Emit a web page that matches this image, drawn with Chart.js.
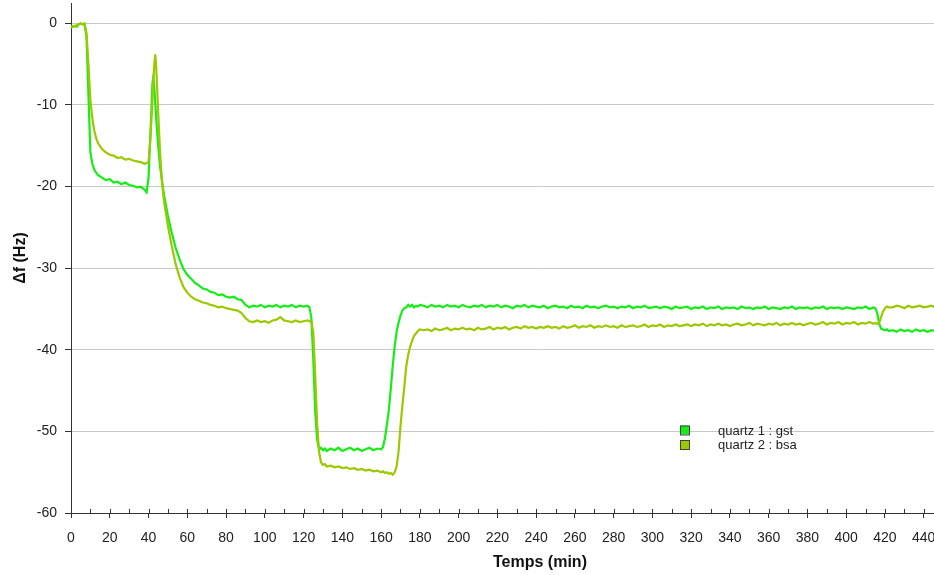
<!DOCTYPE html>
<html><head><meta charset="UTF-8"><title>quartz gst / bsa</title>
<script src="https://cdn.jsdelivr.net/npm/chart.js@4"></script>
<style>
html, body { margin: 0; padding: 0; background: #fff; overflow: hidden; }
#wrap { position: relative; width: 1009px; height: 575px; }
</style></head><body>
<div id="wrap"><canvas id="c"></canvas></div>
<script>
// temps (min) -- denser where the signal moves fast
const temps = [
  0,1,2,3,4,5,6,7,8,9,10,11,12,13,14,
  16,18,20,22,24,26,28,30,32,34,36,38,
  39,40,41,42,42.5,43,43.5,44,45,46,47,48,50,52,54,56,58,60,
  62,64,66,68,70,72,74,76,78,80,82,84,86,88,90,92,94,96,98,100,102,104,106,108,110,112,114,116,118,120,122,
  123,124,125,126,127,128,129,130,131,
  132,134,136,138,140,142,144,146,148,150,152,154,156,158,160,
  161,162,163,164,165,166,167,168,169,170,171,172,173,174,175,176,177,178,179,180,
  182,184,186,188,190,192,194,196,198,200,202,204,206,208,210,212,214,216,218,220,
  222,224,226,228,230,232,234,236,238,240,242,244,246,248,250,252,254,256,258,260,
  262,264,266,268,270,272,274,276,278,280,282,284,286,288,290,292,294,296,298,300,
  302,304,306,308,310,312,314,316,318,320,322,324,326,328,330,332,334,336,338,340,
  342,344,346,348,350,352,354,356,358,360,362,364,366,368,370,372,374,376,378,380,
  382,384,386,388,390,392,394,396,398,400,402,404,406,408,410,412,414,
  415,416,417,418,419,420,421,422,
  424,426,428,430,432,434,436,438,440,442,444,446
];

// quartz 1 : gst (Hz)
const gst = [
  -0.5,-0.4,-0.3,-0.4,-0.1,0.0,-0.1,-0.2,-1.6,-8.8,-15.8,-17.2,-17.9,-18.3,-18.6,
  -18.9,-19.2,-19.1,-19.5,-19.4,-19.7,-19.5,-19.8,-19.9,-20.1,-20.0,-20.4,
  -20.7,-18.9,-13.5,-7.4,-6.6,-8.0,-9.8,-11.8,-15.0,-17.6,-19.4,-21.0,-23.6,-25.7,-27.5,-28.9,-30.1,-30.8,
  -31.3,-31.8,-32.1,-32.5,-32.6,-32.9,-33.0,-33.3,-33.2,-33.5,-33.6,-33.5,-33.8,-33.9,-34.5,-34.8,-34.6,-34.7,-34.5,-34.8,-34.6,-34.7,-34.5,-34.8,-34.6,-34.7,-34.5,-34.8,-34.6,-34.7,-34.6,
  -34.8,-36.0,-41.0,-47.5,-51.0,-52.2,-52.0,-52.3,-52.1,
  -52.4,-52.1,-52.3,-52.0,-52.4,-52.2,-52.0,-52.3,-52.1,-52.4,-52.2,-52.0,-52.3,-52.1,-52.2,
  -51.9,-50.8,-49.2,-47.4,-44.8,-42.0,-39.6,-37.8,-36.7,-35.8,-35.2,-34.9,-34.8,-34.5,-34.7,-34.5,-34.8,-34.6,-34.7,-34.5,
  -34.6,-34.8,-34.5,-34.7,-34.6,-34.8,-34.5,-34.7,-34.6,-34.8,-34.5,-34.7,-34.8,-34.6,-34.7,-34.5,-34.8,-34.6,-34.7,-34.5,
  -34.8,-34.6,-34.7,-34.9,-34.6,-34.7,-34.5,-34.8,-34.6,-34.7,-34.8,-34.6,-34.9,-34.7,-34.6,-34.8,-34.7,-34.9,-34.6,-34.8,
  -34.7,-34.9,-34.6,-34.8,-34.7,-34.9,-34.7,-34.6,-34.8,-34.7,-34.9,-34.7,-34.8,-34.6,-34.9,-34.7,-34.8,-34.6,-34.9,-34.8,
  -34.7,-34.9,-34.7,-34.8,-35.0,-34.7,-34.9,-34.8,-34.7,-35.0,-34.8,-34.9,-34.7,-35.0,-34.8,-34.9,-34.7,-35.0,-34.8,-34.9,
  -34.8,-35.0,-34.7,-34.9,-34.8,-35.0,-34.8,-34.9,-34.7,-35.0,-34.8,-34.9,-35.0,-34.8,-34.9,-34.7,-35.0,-34.8,-34.9,-34.8,
  -35.0,-34.8,-34.9,-34.7,-35.0,-34.8,-34.9,-34.8,-35.0,-34.8,-34.9,-35.0,-34.8,-34.9,-34.7,-35.0,-34.8,
  -34.9,-35.5,-36.8,-37.4,-37.5,-37.6,-37.5,-37.7,
  -37.6,-37.8,-37.5,-37.7,-37.6,-37.8,-37.5,-37.7,-37.6,-37.8,-37.6,-37.7
];

// quartz 2 : bsa (Hz)
const bsa = [
  -0.4,-0.3,-0.4,-0.2,-0.1,0.0,-0.1,0.0,-1.2,-5.0,-9.4,-11.6,-13.1,-14.1,-14.7,
  -15.4,-15.8,-16.1,-16.2,-16.5,-16.4,-16.7,-16.6,-16.8,-16.9,-17.0,-17.2,
  -17.1,-17.0,-14.0,-9.5,-7.0,-5.0,-3.8,-5.5,-11.0,-16.0,-19.6,-21.8,-24.8,-27.3,-29.5,-31.1,-32.3,-33.0,
  -33.5,-33.8,-34.0,-34.2,-34.3,-34.5,-34.6,-34.8,-34.7,-34.9,-35.0,-35.1,-35.2,-35.5,-36.1,-36.5,-36.6,-36.4,-36.6,-36.5,-36.7,-36.4,-36.3,-36.0,-36.4,-36.5,-36.6,-36.4,-36.6,-36.5,-36.4,
  -36.5,-36.6,-37.8,-43.0,-49.0,-52.5,-53.8,-54.1,-54.0,
  -54.3,-54.2,-54.4,-54.3,-54.5,-54.4,-54.6,-54.5,-54.7,-54.6,-54.8,-54.7,-54.9,-54.8,-55.0,
  -54.9,-55.1,-55.0,-55.2,-55.1,-55.3,-55.0,-54.3,-52.5,-49.4,-46.8,-44.5,-42.0,-40.6,-39.6,-38.9,-38.3,-38.0,-37.7,-37.5,
  -37.6,-37.5,-37.7,-37.4,-37.6,-37.5,-37.3,-37.6,-37.4,-37.5,-37.3,-37.5,-37.4,-37.6,-37.3,-37.5,-37.4,-37.2,-37.5,-37.3,
  -37.4,-37.2,-37.5,-37.3,-37.2,-37.4,-37.1,-37.3,-37.2,-37.4,-37.2,-37.3,-37.1,-37.3,-37.2,-37.4,-37.1,-37.3,-37.2,-37.0,
  -37.3,-37.1,-37.2,-37.0,-37.3,-37.1,-37.2,-37.0,-37.2,-37.1,-37.3,-37.0,-37.2,-37.1,-37.0,-37.2,-37.1,-36.9,-37.2,-37.0,
  -37.1,-36.9,-37.2,-37.0,-37.1,-36.9,-37.1,-37.0,-36.9,-37.1,-36.9,-37.0,-36.8,-37.1,-36.9,-37.0,-36.8,-37.0,-36.9,-37.1,
  -36.9,-36.8,-37.0,-36.9,-36.7,-37.0,-36.8,-36.9,-37.0,-36.8,-36.9,-36.7,-37.0,-36.8,-36.9,-36.7,-36.9,-36.8,-37.0,-36.8,
  -36.7,-36.9,-36.8,-36.6,-36.9,-36.7,-36.8,-36.6,-36.9,-36.7,-36.8,-36.6,-36.9,-36.7,-36.8,-36.6,-36.8,
  -36.7,-36.8,-36.7,-36.0,-35.3,-34.9,-34.7,-34.8,
  -34.8,-34.6,-34.7,-34.9,-34.6,-34.8,-34.7,-34.6,-34.8,-34.7,-34.6,-34.8
];

const yTicks = [0,-10,-20,-30,-40,-50,-60];
const xTicks = [0,10,20,30,40,50,60,70,80,90,100,110,120,130,140,150,160,170,180,190,200,210,220,230,
  240,250,260,270,280,290,300,310,320,330,340,350,360,370,380,390,400,410,420,430,440,450,460,470,480];
const xLabelEvery = 20, xLastLabel = 440;

const GREEN = '#14ee14', OLIVE = '#9cc800';
const FONT = '"Liberation Sans", Arial, sans-serif';
Chart.defaults.font.family = FONT;
Chart.defaults.color = '#222';

// small upward tick marks on the time axis
const upTicks = {
  id: 'upTicks',
  afterDraw(chart) {
    const s = chart.scales.x, ctx = chart.ctx, y0 = chart.chartArea.bottom;
    ctx.save(); ctx.strokeStyle = '#333'; ctx.lineWidth = 1;
    s.ticks.forEach(t => {
      const px = Math.round(s.getPixelForValue(t.value)) + 0.5;
      ctx.beginPath(); ctx.moveTo(px, y0 - 4); ctx.lineTo(px, y0); ctx.stroke();
    });
    ctx.restore();
  }
};

// legend drawn inside the plot, like the original software
const innerLegend = {
  id: 'innerLegend',
  afterDatasetsDraw(chart) {
    const ctx = chart.ctx;
    ctx.save();
    ctx.font = '13px ' + FONT;
    ctx.textBaseline = 'middle';
    chart.data.datasets.forEach((ds, i) => {
      const y = 425.5 + i * 14.5;
      ctx.fillStyle = ds.borderColor;
      ctx.fillRect(680, y, 9, 9);
      ctx.strokeStyle = '#444'; ctx.lineWidth = 1;
      ctx.strokeRect(680.5, y + 0.5, 9, 9);
      ctx.fillStyle = '#222';
      ctx.fillText(ds.label, 718, y + 5.5);
    });
    ctx.restore();
  }
};

new Chart(document.getElementById('c'), {
  type: 'line',
  data: {
    datasets: [
      { label: 'quartz 1 : gst', data: temps.map((t, i) => ({ x: t, y: gst[i] })), borderColor: GREEN, borderWidth: 2.2, pointRadius: 0, order: 2 },
      { label: 'quartz 2 : bsa', data: temps.map((t, i) => ({ x: t, y: bsa[i] })), borderColor: OLIVE, borderWidth: 2.2, pointRadius: 0, order: 1 }
    ]
  },
  options: {
    responsive: true, maintainAspectRatio: false, animation: false,
    layout: { padding: { top: 3, right: 0, bottom: 0, left: 0 } },
    plugins: { legend: { display: false }, tooltip: { enabled: false } },
    scales: {
      x: {
        type: 'linear', min: 0, max: 484,
        afterBuildTicks: s => { s.ticks = xTicks.map(v => ({ value: v })); },
        afterFit: s => { s.height = 62; s.paddingLeft = 0; s.paddingRight = 0; },
        border: { color: '#333', width: 1 },
        grid: { drawOnChartArea: false, tickLength: 5, tickColor: c => (c.tick && c.tick.value % xLabelEvery === 0) ? '#333' : 'rgba(0,0,0,0)' },
        ticks: { autoSkip: false, maxRotation: 0, padding: 12, font: { size: 14 }, color: '#222',
          callback: v => (v % xLabelEvery === 0 && v <= xLastLabel) ? String(v) : '' },
        title: { display: true, text: 'Temps (min)', font: { size: 16, weight: 'bold' }, color: '#111', padding: { top: 0, bottom: 2.5 } }
      },
      y: {
        min: -60, max: 2.5,
        afterBuildTicks: s => { s.ticks = yTicks.map(v => ({ value: v })); },
        afterFit: s => { s.width = 71; s.paddingTop = 0; s.paddingBottom = 0; },
        border: { color: '#333', width: 1 },
        grid: { color: '#c8c8c8', lineWidth: 1, tickLength: 6, tickColor: '#333' },
        ticks: { padding: 8, font: { size: 14 }, color: '#222' },
        title: { display: true, text: 'Δf (Hz)', font: { size: 16, weight: 'bold' }, color: '#111', padding: { top: 10.5, bottom: 0 } }
      }
    }
  },
  plugins: [upTicks, innerLegend]
});
</script></body></html>
